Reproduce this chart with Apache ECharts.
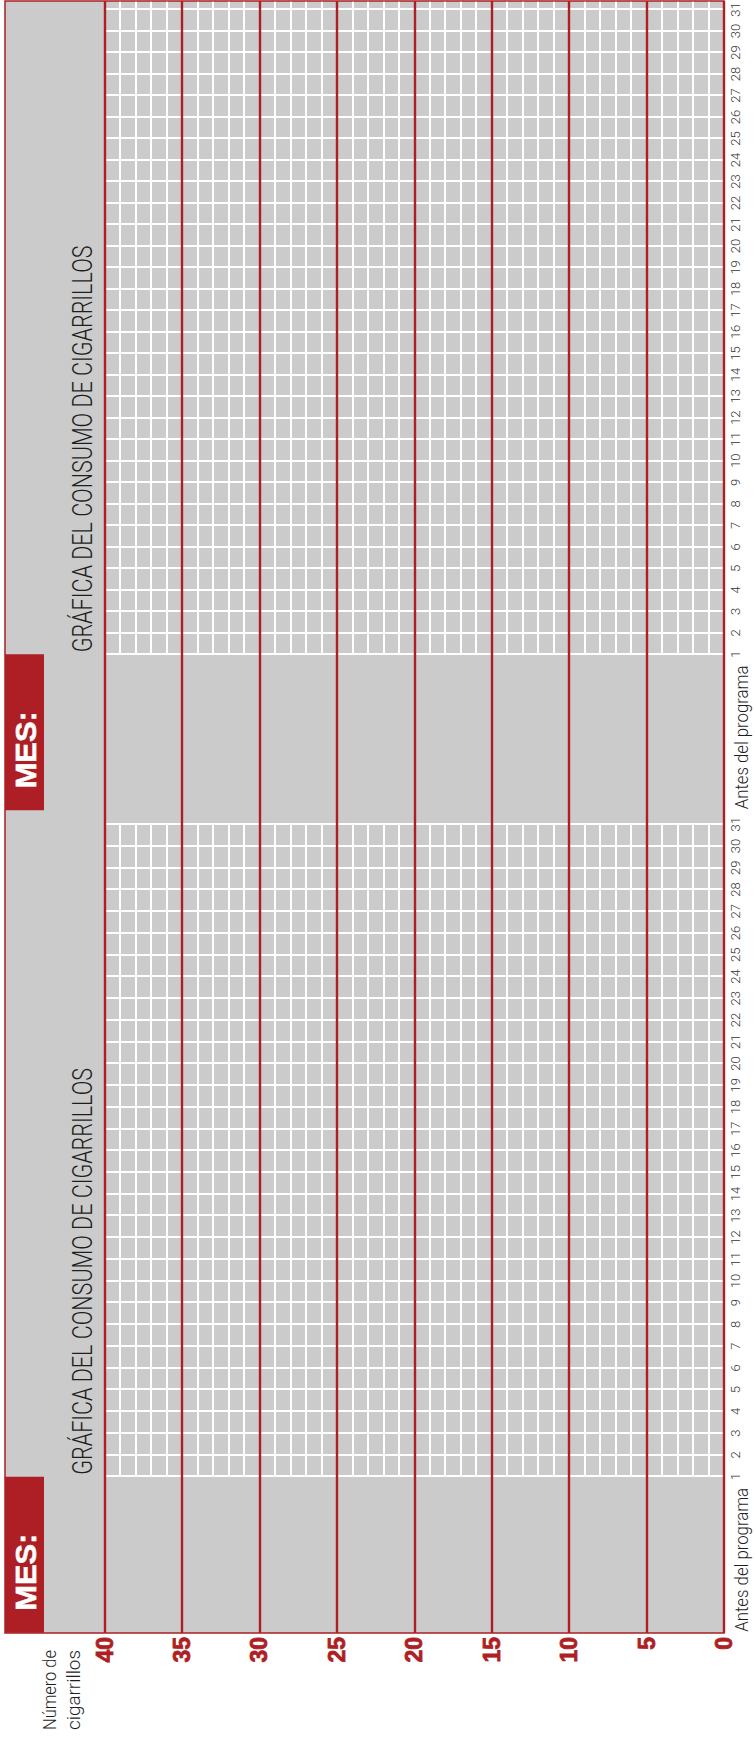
<!DOCTYPE html>
<html><head><meta charset="utf-8">
<script src="https://cdn.jsdelivr.net/npm/echarts@6/dist/echarts.min.js"></script>
<style>
html,body{margin:0;padding:0;background:#fff;overflow:hidden;width:755px;height:1742px;}
#chart{position:absolute;left:0;top:0;width:1742px;height:755px;transform-origin:0 0;transform:translate(0,1742px) rotate(-90deg);}
</style></head><body><div id="chart"></div>
<script>
// ---- data (blank recording template: two months) ----
const days = [1,2,3,4,5,6,7,8,9,10,11,12,13,14,15,16,17,18,19,20,21,22,23,24,25,26,27,28,29,30,31];
const cigaretteTicks = [0,5,10,15,20,25,30,35,40];
const monthLabels = ['MES:', 'MES:'];
const chartTitle = 'GRÁFICA DEL CONSUMO DE CIGARRILLOS';
const baselineLabel = 'Antes del programa';
const valueAxisName = ['Número de', 'cigarrillos'];
const consumptionMonth1 = [];
const consumptionMonth2 = [];

// ---- styling / layout ----
const RED = '#ad1f25', GREY = '#cbcbcb', WHITE = '#ffffff', INK = '#1e1e1e';
const W = 1742, H = 755;
const plot = {left: 109, right: 1, top: 5, bottom: 31};
const valTop = 104.5;
const blocks = [{left: 265.3, right: W - 917.7}, {left: 1087.7, right: W - 1732.5}];

const vMin = cigaretteTicks[0], vMax = cigaretteTicks[cigaretteTicks.length - 1];
const vStep = cigaretteTicks[1] - cigaretteTicks[0];
const dMin = days[0], dMax = days[days.length - 1];

const chart = echarts.init(document.getElementById('chart'), null, {renderer: 'svg'});

const dayAxis = (gi) => ({
  gridIndex: gi, type: 'value', min: dMin, max: dMax, interval: 1, z: 1,
  axisLine: {show: false}, axisTick: {show: false},
  splitLine: {show: true, lineStyle: {color: WHITE, width: 2}},
  axisLabel: {show: true, color: '#333', fontFamily: 'Roboto', fontWeight: 300, fontSize: 13, margin: 5,
    showMinLabel: true, showMaxLabel: true,
    formatter: v => days.includes(v) ? String(v) : ''}
});
const minorValAxis = (gi, show) => ({
  gridIndex: gi, type: 'value', min: vMin, max: vMax, interval: 1, z: 1,
  axisLine: {show: false}, axisTick: {show: false}, axisLabel: {show: false},
  splitLine: {show: show, lineStyle: {color: WHITE, width: 2}}
});
const hidden = (gi) => ({gridIndex: gi, type: 'value', min: 0, max: 1, show: false, splitLine: {show: false}});

const gridBase = {outerBoundsMode: 'none', containLabel: false};

chart.setOption({
  animation: false,
  grid: [
    Object.assign({left: plot.left, right: plot.right, top: plot.top, bottom: plot.bottom, show: true,
      backgroundColor: GREY, borderColor: RED, borderWidth: 1.5, z: 0}, gridBase),
    Object.assign({left: blocks[0].left, right: blocks[0].right, top: valTop, bottom: plot.bottom}, gridBase),
    Object.assign({left: blocks[1].left, right: blocks[1].right, top: valTop, bottom: plot.bottom}, gridBase),
    Object.assign({left: plot.left, right: plot.right, top: valTop, bottom: plot.bottom}, gridBase),
    // second month's value lines run on to the edge of the sheet
    Object.assign({left: blocks[1].left, right: plot.right + 0.8, top: valTop, bottom: plot.bottom}, gridBase)
  ],
  xAxis: [hidden(0), dayAxis(1), dayAxis(2), hidden(3), hidden(4)],
  yAxis: [
    hidden(0), minorValAxis(1, true), minorValAxis(2, false),
    {gridIndex: 3, type: 'value', min: vMin, max: vMax, interval: vStep, z: 3,
      axisLine: {show: false}, axisTick: {show: false},
      splitLine: {show: true, lineStyle: {color: RED, width: 2.4}},
      axisLabel: {color: RED, fontFamily: 'Liberation Sans', fontWeight: 'bold', fontSize: 23, margin: 4,
        textBorderColor: RED, textBorderWidth: 0.8}},
    minorValAxis(4, true)
  ],
  series: [
    {type: 'line', xAxisIndex: 1, yAxisIndex: 1, data: consumptionMonth1, symbol: 'none'},
    {type: 'line', xAxisIndex: 2, yAxisIndex: 2, data: consumptionMonth2, symbol: 'none'}
  ]
});

// ---- annotations positioned from the axes ----
const ctx = document.createElement('canvas').getContext('2d');
function textW(str, font) { ctx.font = font; return ctx.measureText(str).width; }
const fTitle = '300 28px Roboto', fAntes = '300 18px Roboto', fMes = 'bold 30px "Liberation Sans"', fName = '300 19px Roboto';

const graphics = [];
[1, 2].forEach((ax, i) => {
  const d1 = chart.convertToPixel({xAxisIndex: ax}, dMin);
  const boxW = 156;
  graphics.push({type: 'rect', shape: {x: d1 - boxW, y: plot.top, width: boxW, height: 39}, style: {fill: RED}, z: 10});
  graphics.push({type: 'text', x: d1 - boxW + 22, y: 25, scaleX: 77 / textW(monthLabels[i], fMes), z: 11,
    style: {text: monthLabels[i], font: fMes, fill: WHITE, verticalAlign: 'middle', align: 'left',
      stroke: WHITE, lineWidth: 0.6}});
  graphics.push({type: 'text', x: d1 + 2, y: 82, scaleX: 407 / textW(chartTitle, fTitle), z: 11,
    style: {text: chartTitle, font: fTitle, fill: INK, verticalAlign: 'middle', align: 'left'}});
  const aw = textW(baselineLabel, fAntes), sA = 144 / aw;
  graphics.push({type: 'text', x: d1 - 83 - 72, y: 741.5, scaleX: sA, z: 11,
    style: {text: baselineLabel, font: fAntes, fill: INK, verticalAlign: 'middle', align: 'left'}});
});
graphics.push({type: 'text', x: 12, y: 50, scaleX: 80 / textW(valueAxisName[0], fName), z: 11,
  style: {text: valueAxisName[0], font: fName, fill: INK, verticalAlign: 'middle', align: 'left'}});
graphics.push({type: 'text', x: 12, y: 73, scaleX: 80 / textW(valueAxisName[1], fName), z: 11,
  style: {text: valueAxisName[1], font: fName, fill: INK, verticalAlign: 'middle', align: 'left'}});

chart.setOption({graphic: {elements: graphics}});
</script></body></html>
